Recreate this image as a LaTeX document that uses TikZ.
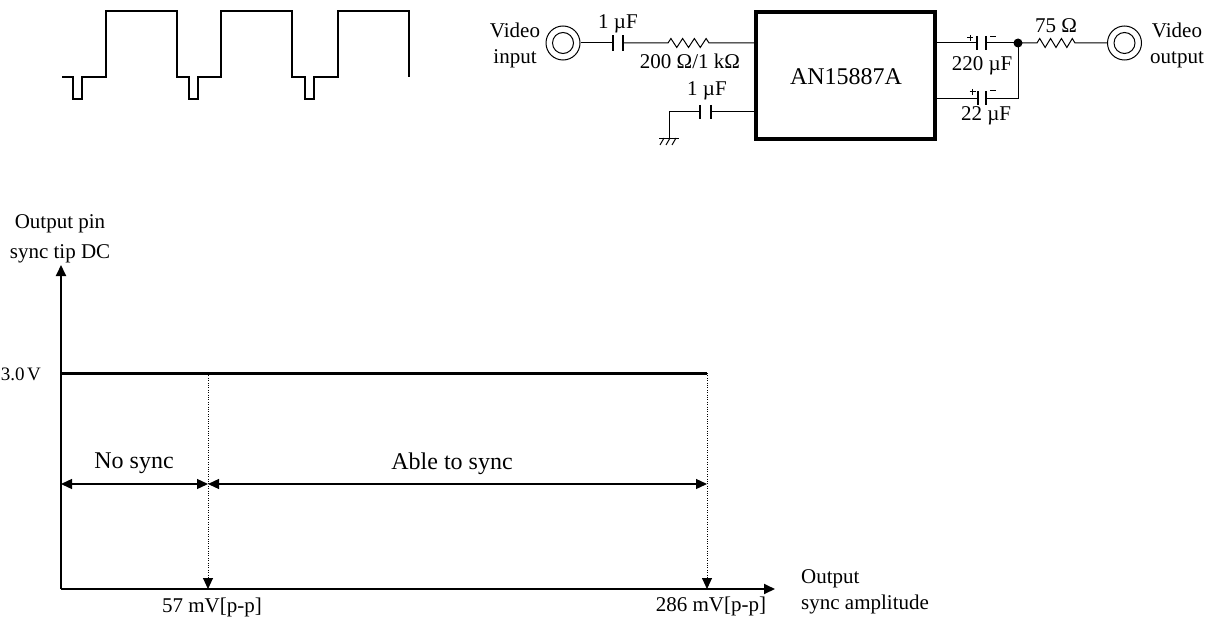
\documentclass[tikz,border=0pt]{standalone}
\usepackage{fontspec}
\setmainfont{Liberation Serif}
\usetikzlibrary{arrows.meta}
\begin{document}
\begin{tikzpicture}[x=1pt,y=-1pt,
  lbl/.style={inner sep=0pt, font=\fontsize{21}{26}\selectfont, align=center},
  biglbl/.style={inner sep=0pt, font=\fontsize{24}{28}\selectfont, align=center},
  wire/.style={line width=1pt},
  plate/.style={line width=2.6pt},
  wave/.style={line width=2pt, line join=miter},
  conn/.style={circle, draw, line width=1pt, minimum size=34pt, inner sep=0pt},
  axis/.style={line width=1.8pt, -{Triangle[length=11pt,width=10pt]}},
  span/.style={line width=1.3pt, {Triangle[length=11pt,width=10pt]}-{Triangle[length=11pt,width=10pt]}},
  guide/.style={line width=0.9pt, dash pattern=on 1pt off 1.4pt, -{Triangle[length=11pt,width=10pt]}}]
\useasboundingbox (0,0) rectangle (1217,623);

% ---------- waveform ----------
\draw[wave] (62,77) -- (73,77) -- (73,99) -- (82,99) -- (82,77) -- (106,77) -- (106,11) -- (177,11)
  -- (177,77) -- (189,77) -- (189,99) -- (198,99) -- (198,77) -- (221,77) -- (221,11) -- (292,11)
  -- (292,77) -- (305,77) -- (305,99) -- (314,99) -- (314,77) -- (338,77) -- (338,11) -- (409,11) -- (409,77);

% ---------- circuit ----------
\node[lbl] (vinlbl) at (515,45) {Video\\input};
\node[conn] (vin) at (563,43) {};
\draw[wire] (vin.center) circle (10.5pt);

\node[draw, line width=4pt, minimum width=179pt, minimum height=127pt, inner sep=0pt] (ic) at (845.5,75.5) {};
\node[biglbl] (icname) at (846,77) {AN15887A};

% input coupling capacitor 1 uF
\coordinate (c1a) at (613,43);
\coordinate (c1b) at (623,43);
\draw[wire] (vin.east) -- (c1a);
\draw[plate] (613,35.5) -- (613,51);
\draw[plate] (623,35.5) -- (623,51);
\node[lbl] (c1lbl) at (618,24) {1 µF};

% input resistor
\coordinate (r1a) at (668,43);
\coordinate (r1b) at (709,43);
\draw[wire, line join=miter] (c1b) -- (r1a) -- ++(2.9,-4.5) -- ++(5.87,9) -- ++(5.87,-9) -- ++(5.87,9)
  -- ++(5.87,-9) -- ++(5.87,9) -- ++(5.87,-9) -- (r1b) -- (r1b -| ic.west);
\node[lbl] (r1lbl) at (690,61) {200 Ω/1 kΩ};

% grounded capacitor 1 uF
\coordinate (gnd) at (669,138);
\coordinate (c2a) at (700,112);
\coordinate (c2b) at (711,112);
\draw[wire] (gnd) -- (669,112) -- (c2a);
\draw[wire] (c2b) -- (c2b -| ic.west);
\draw[plate] (700,105) -- (700,119.5);
\draw[plate] (711,105) -- (711,119.5);
\node[lbl] (c2lbl) at (707,91) {1 µF};
\draw[wire] (659,138) -- (679,138);
\draw[wire] (664,138) -- (660,145);
\draw[wire] (670,138) -- (666,145);
\draw[wire] (676,138) -- (672,145);

% output capacitors
\node[circle, fill, minimum size=9pt, inner sep=0pt] (jn) at (1018,43) {};
\coordinate (c3a) at (977,43);
\coordinate (c3b) at (986,43);
\draw[wire] (c3a -| ic.east) -- (c3a);
\draw[wire] (c3b) -- (jn.center);
\draw[plate] (977,36) -- (977,50);
\draw[plate] (986,36) -- (986,50);
\draw[wire] (967,38) -- (973,38) (970,35) -- (970,41);
\draw[wire] (990,37) -- (995.5,37);
\node[lbl] (c3lbl) at (982,66) {220 µF};

\coordinate (c4a) at (978,98.5);
\coordinate (c4b) at (986,98.5);
\draw[wire] (c4a -| ic.east) -- (c4a);
\draw[wire] (c4b) -- (jn |- c4b) -- (jn.center);
\draw[plate] (978,91.5) -- (978,105.5);
\draw[plate] (986,91.5) -- (986,105.5);
\draw[wire] (969.5,92) -- (975.5,92) (972.5,89) -- (972.5,95);
\draw[wire] (990,91) -- (995.5,91);
\node[lbl] (c4lbl) at (986,116) {22 µF};

% output resistor
\node[conn] (vout) at (1124.5,43) {};
\draw[wire] (vout.center) circle (10.5pt);
\coordinate (r2a) at (1037,43);
\coordinate (r2b) at (1075,43);
\draw[wire, line join=miter] (jn.center) -- (r2a) -- ++(2.7,-4.5) -- ++(5.43,9) -- ++(5.43,-9) -- ++(5.43,9)
  -- ++(5.43,-9) -- ++(5.43,9) -- ++(5.43,-9) -- (r2b) -- (vout.west);
\node[lbl] (r2lbl) at (1056,26) {75 Ω};
\node[lbl] (voutlbl) at (1177,45) {Video\\output};

% ---------- graph ----------
\coordinate (O) at (61,589);
\coordinate (ytip) at (61,265);
\coordinate (xtip) at (775,589);
\draw[axis] (O) -- (ytip);
\draw[axis] (O) -- (xtip);
\node[inner sep=0pt, font=\fontsize{21}{30}\selectfont, align=center] (ylbl) at (60,239) {Output pin\\sync tip DC};
\node[lbl, align=left, anchor=west] (xlbl) at (801,592) {Output\\sync amplitude};

\coordinate (v3a) at (61,373);
\coordinate (v3b) at (707,373);
\draw[line width=3pt] (v3a) -- (v3b);
\node[inner sep=0pt, font=\fontsize{19}{22}\selectfont, anchor=east] (v3lbl) at (41,374) {3.0\kern2.5pt V};

\coordinate (t57) at (208,373);
\coordinate (b57) at (208,589);
\coordinate (b286) at (707,589);
\draw[guide] (t57) -- (b57);
\draw[guide] (v3b) -- (b286);
\node[lbl] (l57) at (212,607) {57 mV[p-p]};
\node[lbl] (l286) at (711,606) {286 mV[p-p]};

\coordinate (sa) at (61,484);
\coordinate (sb) at (208,484);
\coordinate (sc) at (707,484);
\draw[span] (sa) -- (sb);
\draw[span] (sb) -- (sc);
\node[biglbl] (nosync) at (134,463) {No sync};
\node[biglbl] (able) at (452,464) {Able to sync};
\end{tikzpicture}
\end{document}
